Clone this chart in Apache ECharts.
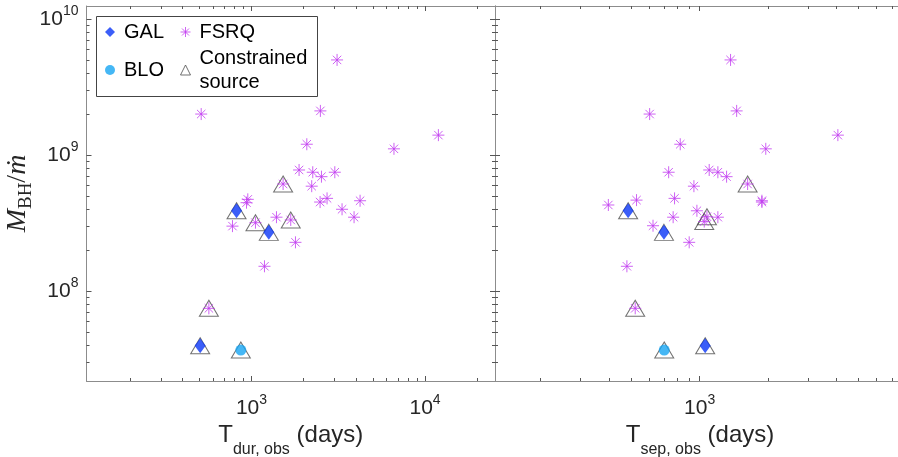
<!DOCTYPE html>
<html>
<head>
<meta charset="utf-8">
<script src="https://cdn.jsdelivr.net/npm/echarts@6/dist/echarts.min.js"></script>
<style>
html, body { margin: 0; padding: 0; background: #fff; }
#chart { width: 898px; height: 457px; }
</style>
</head>
<body>
<div id="chart"></div>
<script>
// tick positions
var majorDur = [1000, 10000];
var minorDur = [200, 300, 400, 500, 600, 700, 800, 900, 2000, 3000, 4000, 5000, 6000, 7000, 8000, 9000, 20000];
var majorSep = [1000];
var minorSep = [200, 300, 400, 500, 600, 700, 800, 900, 2000, 3000, 4000, 5000, 6000, 7000];
var majorY = [1e8, 1e9, 1e10];
var minorY = [3e7, 4e7, 5e7, 6e7, 7e7, 8e7, 9e7, 2e8, 3e8, 4e8, 5e8, 6e8, 7e8, 8e8, 9e8,
  2e9, 3e9, 4e9, 5e9, 6e9, 7e9, 8e9, 9e9];

// [T (days), M_BH / mdot]
var galDur = [[820, 3.89e8], [1258, 2.70e8], [506, 3.96e7]];
var galSep = [[485, 3.89e8], [697, 2.70e8], [1058, 3.96e7]];
var bloDur = [[868, 3.68e7]];
var bloSep = [[699, 3.68e7]];
var fsrqDur = [[3112, 5.0e9], [513, 2.0e9], [2494, 2.11e9], [11940, 1.40e9], [2083, 1.2e9], [6620, 1.11e9],
  [1880, 7.76e8], [2254, 7.47e8], [2530, 6.93e8], [3020, 7.47e8], [1521, 6.12e8], [2223, 5.9e8],
  [952, 4.72e8], [936, 4.46e8], [2485, 4.51e8], [2725, 4.8e8], [4224, 4.61e8], [3325, 3.99e8],
  [3900, 3.49e8], [777, 3.0e8], [1054, 3.18e8], [1393, 3.49e8], [1683, 3.33e8], [1792, 2.28e8],
  [1188, 1.52e8], [568, 7.46e7]];
var fsrqSep = [[1368, 5.0e9], [603, 2.0e9], [1455, 2.11e9], [4054, 1.40e9], [822, 1.2e9], [1954, 1.11e9],
  [1102, 7.76e8], [731, 7.47e8], [1203, 7.47e8], [1314, 6.93e8], [1626, 6.12e8], [944, 5.9e8],
  [776, 4.8e8], [528, 4.66e8], [1879, 4.61e8], [1879, 4.51e8], [397, 4.29e8], [973, 3.89e8],
  [765, 3.49e8], [1203, 3.49e8], [1077, 3.52e8], [1048, 3.24e8], [624, 3.02e8], [900, 2.28e8],
  [479, 1.52e8], [521, 7.46e7]];
var constrainedDur = [[820, 3.89e8], [1258, 2.70e8], [506, 3.96e7], [868, 3.68e7],
  [1521, 6.12e8], [1054, 3.18e8], [1683, 3.33e8], [568, 7.46e7]];
var constrainedSep = [[485, 3.89e8], [697, 2.70e8], [1058, 3.96e7], [699, 3.68e7],
  [1626, 6.12e8], [1077, 3.52e8], [1048, 3.24e8], [521, 7.46e7]];

var FONT = '"Liberation Sans", Arial, Helvetica, sans-serif';
var SERIF = '"Liberation Serif", "DejaVu Serif", serif';
var TXT = '#262626';
var STAR = 'path://M5,0L5,10M0,5L10,5M1.5,1.5L8.5,8.5M1.5,8.5L8.5,1.5';
var starColor = '#c23cf0';
var triColor = '#4d4d4d';

// 10^n labels: exponent raised through token line heights
var supRich = {
  b: { fontSize: 21, lineHeight: 30, verticalAlign: 'middle', color: TXT, fontFamily: FONT },
  p: { fontSize: 14, lineHeight: 16, verticalAlign: 'top', color: TXT, fontFamily: FONT }
};
function powLabel(v) {
  return '{b|10}{p|' + Math.round(Math.log10(v)) + '}';
}

function axis(gridIndex, position, min, max, ticks, len, labels, lineShow) {
  var a = {
    type: 'log', logBase: 10, gridIndex: gridIndex, position: position,
    min: min, max: max,
    axisLine: { show: lineShow, onZero: false, lineStyle: { color: '#8c8c8c', width: 1 } },
    axisTick: { show: true, inside: true, length: len, customValues: ticks,
      lineStyle: { color: '#555', width: 1 } },
    axisLabel: { show: false },
    splitLine: { show: false },
    minorTick: { show: false },
    axisPointer: { show: false }
  };
  if (labels) {
    a.axisLabel = { show: true, customValues: labels, formatter: powLabel, rich: supRich,
      margin: position === 'bottom' ? 12 : 8, hideOverlap: false };
  }
  return a;
}

var durMin = 112, durMax = 25300, sepMin = 126, sepMax = 8000;
var yMin = 2.18e7, yMax = 1.246e10;

var xAxes = [
  axis(0, 'bottom', durMin, durMax, majorDur, 5, majorDur, true),
  axis(0, 'bottom', durMin, durMax, minorDur, 3, null, false),
  axis(0, 'top', durMin, durMax, majorDur, 5, null, true),
  axis(0, 'top', durMin, durMax, minorDur, 3, null, false),
  axis(1, 'bottom', sepMin, sepMax, majorSep, 5, majorSep, true),
  axis(1, 'bottom', sepMin, sepMax, minorSep, 3, null, false),
  axis(1, 'top', sepMin, sepMax, majorSep, 5, null, true),
  axis(1, 'top', sepMin, sepMax, minorSep, 3, null, false)
];
// subscript dropped by putting it at the bottom of a taller line
var titleRich = {
  t: { fontSize: 24, lineHeight: 26, verticalAlign: 'top', color: TXT, fontFamily: FONT },
  s: { fontSize: 16, lineHeight: 34, verticalAlign: 'bottom', color: TXT, fontFamily: FONT }
};
xAxes[0].name = '{t|T}{s|dur, obs}{t| (days)}';
xAxes[4].name = '{t|T}{s|sep, obs}{t| (days)}';
[0, 4].forEach(function (i) {
  xAxes[i].nameLocation = 'middle';
  xAxes[i].nameGap = 37;
  xAxes[i].nameTextStyle = { rich: titleRich };
});

var yAxes = [
  axis(0, 'left', yMin, yMax, majorY, 5, majorY, true),
  axis(0, 'left', yMin, yMax, minorY, 3, null, false),
  axis(0, 'right', yMin, yMax, majorY, 5, null, true),
  axis(0, 'right', yMin, yMax, minorY, 3, null, false),
  axis(1, 'left', yMin, yMax, majorY, 5, null, true),
  axis(1, 'left', yMin, yMax, minorY, 3, null, false)
];
yAxes[0].name = '{m|M}{s|BH}{r|/}{m|ṁ}';
yAxes[0].nameLocation = 'middle';
yAxes[0].nameRotate = 90;
yAxes[0].nameGap = 51;
yAxes[0].nameTextStyle = {
  rich: {
    m: { fontSize: 28, lineHeight: 30, verticalAlign: 'top', fontStyle: 'italic', color: TXT, fontFamily: SERIF },
    r: { fontSize: 28, lineHeight: 30, verticalAlign: 'top', color: TXT, fontFamily: SERIF },
    s: { fontSize: 19, lineHeight: 32, verticalAlign: 'bottom', color: TXT, fontFamily: SERIF }
  }
};

function scatter(name, data, xi, yi, symbol, size, style, z) {
  return {
    type: 'scatter', name: name, data: data, xAxisIndex: xi, yAxisIndex: yi,
    symbol: symbol, symbolSize: size, itemStyle: style, z: z,
    emphasis: { disabled: true }, silent: true, clip: false
  };
}
var triStyle = { color: 'rgba(0,0,0,0)', borderColor: triColor, borderWidth: 1 };
var starStyle = { color: 'rgba(0,0,0,0)', borderColor: starColor, borderWidth: 1 };
var galStyle = { color: '#0a36f6' };
var bloStyle = { color: '#17a5f2' };

var series = [
  scatter('Constrained\nsource', constrainedDur, 0, 0, 'triangle', [19, 16], triStyle, 2),
  scatter('FSRQ', fsrqDur, 0, 0, STAR, 12, starStyle, 3),
  scatter('GAL', galDur, 0, 0, 'diamond', [11, 15], galStyle, 4),
  scatter('BLO', bloDur, 0, 0, 'circle', 11, bloStyle, 4),
  scatter('Constrained\nsource', constrainedSep, 4, 4, 'triangle', [19, 16], triStyle, 2),
  scatter('FSRQ', fsrqSep, 4, 4, STAR, 12, starStyle, 3),
  scatter('GAL', galSep, 4, 4, 'diamond', [11, 15], galStyle, 4),
  scatter('BLO', bloSep, 4, 4, 'circle', 11, bloStyle, 4)
];

var legendText = { fontSize: 20, lineHeight: 24, color: '#000', fontFamily: FONT, padding: [0, 0, 0, 4] };

var option = {
  animation: false,
  backgroundColor: '#fff',
  grid: [
    { left: 86.5, top: 6, width: 408.5, height: 375, outerBoundsMode: 'none' },
    { left: 495, top: 6, width: 410, height: 375, outerBoundsMode: 'none' }
  ],
  xAxis: xAxes,
  yAxis: yAxes,
  legend: [
    {
      orient: 'vertical', left: 105, top: 20, padding: 0, itemGap: 14, itemWidth: 10, itemHeight: 10,
      selectedMode: false, textStyle: legendText, z: 6,
      data: [
        { name: 'GAL', icon: 'diamond', itemStyle: { color: '#0a36f6', borderWidth: 0 } },
        { name: 'BLO', icon: 'circle', itemStyle: { color: '#17a5f2', borderWidth: 0 } }
      ]
    },
    {
      orient: 'vertical', left: 180, top: 20, padding: 0, itemGap: 2, itemWidth: 10, itemHeight: 10,
      selectedMode: false, textStyle: legendText, z: 6,
      data: [
        { name: 'FSRQ', icon: STAR, itemStyle: { color: 'rgba(0,0,0,0)', borderColor: starColor, borderWidth: 1 } },
        { name: 'Constrained\nsource', icon: 'triangle', itemStyle: { color: 'rgba(0,0,0,0)', borderColor: triColor, borderWidth: 1 } }
      ]
    }
  ],
  graphic: [{
    type: 'rect', z: 5, silent: true,
    shape: { x: 96.5, y: 16.5, width: 221, height: 80 },
    style: { fill: '#fff', stroke: '#444', lineWidth: 1 }
  }],
  series: series
};

var chart = echarts.init(document.getElementById('chart'));
chart.setOption(option);
</script>
</body>
</html>
